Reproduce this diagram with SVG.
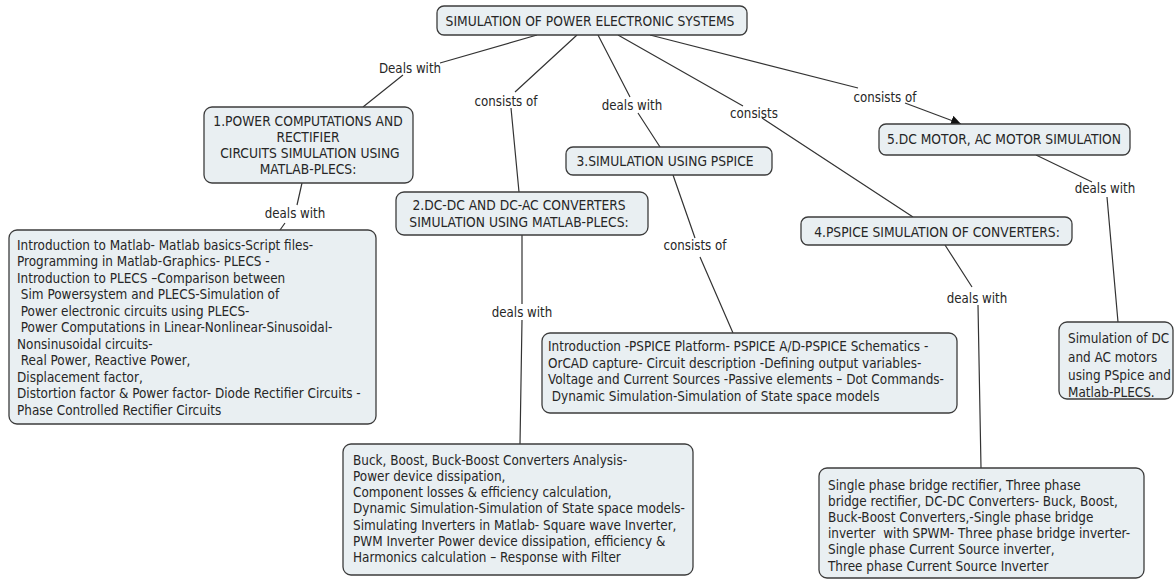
<svg xmlns="http://www.w3.org/2000/svg" width="1174" height="580" viewBox="0 0 1174 580">
<style>
text{font-family:"DejaVu Sans Condensed","DejaVu Sans",sans-serif;font-size:13.4px;fill:#262626;white-space:pre}
.box{fill:#e9eff2;stroke:#3c3c3c;stroke-width:1.3}
.c{text-anchor:middle;font-size:13.7px}
.ln{fill:none;stroke:#333;stroke-width:1.2}
.lbl{text-anchor:middle;font-size:13.2px}
</style>
<defs>
<marker id="arr" viewBox="0 0 10 10" refX="10" refY="5" markerWidth="10" markerHeight="10" markerUnits="userSpaceOnUse" orient="auto">
<path d="M0,0 L10,5 L0,10 z" fill="#111"/>
</marker>
</defs>
<rect width="1174" height="580" fill="#fff"/>
<g id="connectors">
<path class="ln" d="M537,35 L440,63 M403,75 L363,107"/>
<path class="ln" d="M577,35 L515,92 M511,108 L519,192"/>
<path class="ln" d="M598,35 L630,97 M638,113 L660,147"/>
<path class="ln" d="M618,35 L743,106 M762,118 L913,217"/>
<path class="ln" d="M650,35 L858,88"/>
<path class="ln" d="M905,103 L961,124" marker-end="url(#arr)"/>
<path class="ln" d="M302,183 L297,205 M285,223 L280,230"/>
<path class="ln" d="M522,235 L522,304 M522,320 L520,444"/>
<path class="ln" d="M673,175 L695,238 M700,257 L733,333"/>
<path class="ln" d="M945,245 L972,287 M978,305 L981,468"/>
<path class="ln" d="M1036,155 L1092,182 M1107,197 L1118,322"/>
<text class="lbl" x="410" y="72.5">Deals with</text>
<text class="lbl" x="506" y="105.5">consists of</text>
<text class="lbl" x="632" y="109.5">deals with</text>
<text class="lbl" x="754" y="117.5">consists</text>
<text class="lbl" x="885" y="101.5">consists of</text>
<text class="lbl" x="295" y="217.5">deals with</text>
<text class="lbl" x="522" y="316.5">deals with</text>
<text class="lbl" x="695" y="249.5">consists of</text>
<text class="lbl" x="977" y="302.5">deals with</text>
<text class="lbl" x="1105" y="192.5">deals with</text>
</g>
<g id="title">
<rect class="box" x="437" y="6" width="310" height="29" rx="7"/>
<text class="c" x="590" y="25.5">SIMULATION OF POWER ELECTRONIC SYSTEMS</text>
</g>
<g id="node1">
<rect class="box" x="204" y="107" width="209" height="76" rx="8"/>
<text class="c" x="308" y="125.5">1.POWER COMPUTATIONS AND</text>
<text class="c" x="308" y="141.5">RECTIFIER</text>
<text class="c" x="308" y="157.5"> CIRCUITS SIMULATION USING</text>
<text class="c" x="308" y="173.5">MATLAB-PLECS:</text>
</g>
<g id="node2">
<rect class="box" x="396" y="192" width="252" height="43" rx="8"/>
<text class="c" x="519" y="209.5">2.DC-DC AND DC-AC CONVERTERS</text>
<text class="c" x="519" y="226.5">SIMULATION USING MATLAB-PLECS:</text>
</g>
<g id="node3">
<rect class="box" x="566" y="147" width="206" height="28" rx="7"/>
<text class="c" x="665" y="165.5">3.SIMULATION USING PSPICE</text>
</g>
<g id="node4">
<rect class="box" x="801" y="217" width="271" height="28" rx="7"/>
<text class="c" x="937" y="236.5">4.PSPICE SIMULATION OF CONVERTERS:</text>
</g>
<g id="node5">
<rect class="box" x="879" y="124" width="251" height="31" rx="7"/>
<text class="c" x="1004" y="144">5.DC MOTOR, AC MOTOR SIMULATION</text>
</g>
<g id="box1">
<rect class="box" x="9" y="230" width="367" height="194" rx="8"/>
<text x="17" y="249.5">Introduction to Matlab- Matlab basics-Script files-</text>
<text x="17" y="266">Programming in Matlab-Graphics- PLECS -</text>
<text x="17" y="282.5">Introduction to PLECS –Comparison between</text>
<text x="17" y="299"> Sim Powersystem and PLECS-Simulation of</text>
<text x="17" y="315.5"> Power electronic circuits using PLECS-</text>
<text x="17" y="332"> Power Computations in Linear-Nonlinear-Sinusoidal-</text>
<text x="17" y="348.5">Nonsinusoidal circuits-</text>
<text x="17" y="365"> Real Power, Reactive Power,</text>
<text x="17" y="381.5">Displacement factor,</text>
<text x="17" y="398">Distortion factor &amp; Power factor- Diode Rectifier Circuits -</text>
<text x="17" y="414.5">Phase Controlled Rectifier Circuits</text>
</g>
<g id="box2">
<rect class="box" x="343" y="444" width="350" height="131" rx="8"/>
<text x="353" y="464.5">Buck, Boost, Buck-Boost Converters Analysis-</text>
<text x="353" y="480.8">Power device dissipation,</text>
<text x="353" y="497.1">Component losses &amp; efficiency calculation,</text>
<text x="353" y="513.4">Dynamic Simulation-Simulation of State space models-</text>
<text x="353" y="529.7">Simulating Inverters in Matlab- Square wave Inverter,</text>
<text x="353" y="546">PWM Inverter Power device dissipation, efficiency &amp;</text>
<text x="353" y="562.3">Harmonics calculation – Response with Filter</text>
</g>
<g id="box3">
<rect class="box" x="542" y="333" width="415" height="80" rx="8"/>
<text x="548" y="351">Introduction -PSPICE Platform- PSPICE A/D-PSPICE Schematics -</text>
<text x="548" y="367.5">OrCAD capture- Circuit description -Defining output variables-</text>
<text x="548" y="384">Voltage and Current Sources -Passive elements – Dot Commands-</text>
<text x="548" y="400.5"> Dynamic Simulation-Simulation of State space models</text>
</g>
<g id="box4">
<rect class="box" x="819" y="468" width="325" height="110" rx="8"/>
<text x="828" y="489.5">Single phase bridge rectifier, Three phase</text>
<text x="828" y="505.7">bridge rectifier, DC-DC Converters- Buck, Boost,</text>
<text x="828" y="521.9">Buck-Boost Converters,-Single phase bridge</text>
<text x="828" y="538.1">inverter  with SPWM- Three phase bridge inverter-</text>
<text x="828" y="554.3">Single phase Current Source inverter,</text>
<text x="828" y="570.5">Three phase Current Source Inverter</text>
</g>
<g id="box5">
<rect class="box" x="1059" y="322" width="114" height="77" rx="8"/>
<text x="1068" y="342.5">Simulation of DC</text>
<text x="1068" y="361.5">and AC motors</text>
<text x="1068" y="380">using PSpice and</text>
<text x="1068" y="397">Matlab-PLECS.</text>
</g>
</svg>
